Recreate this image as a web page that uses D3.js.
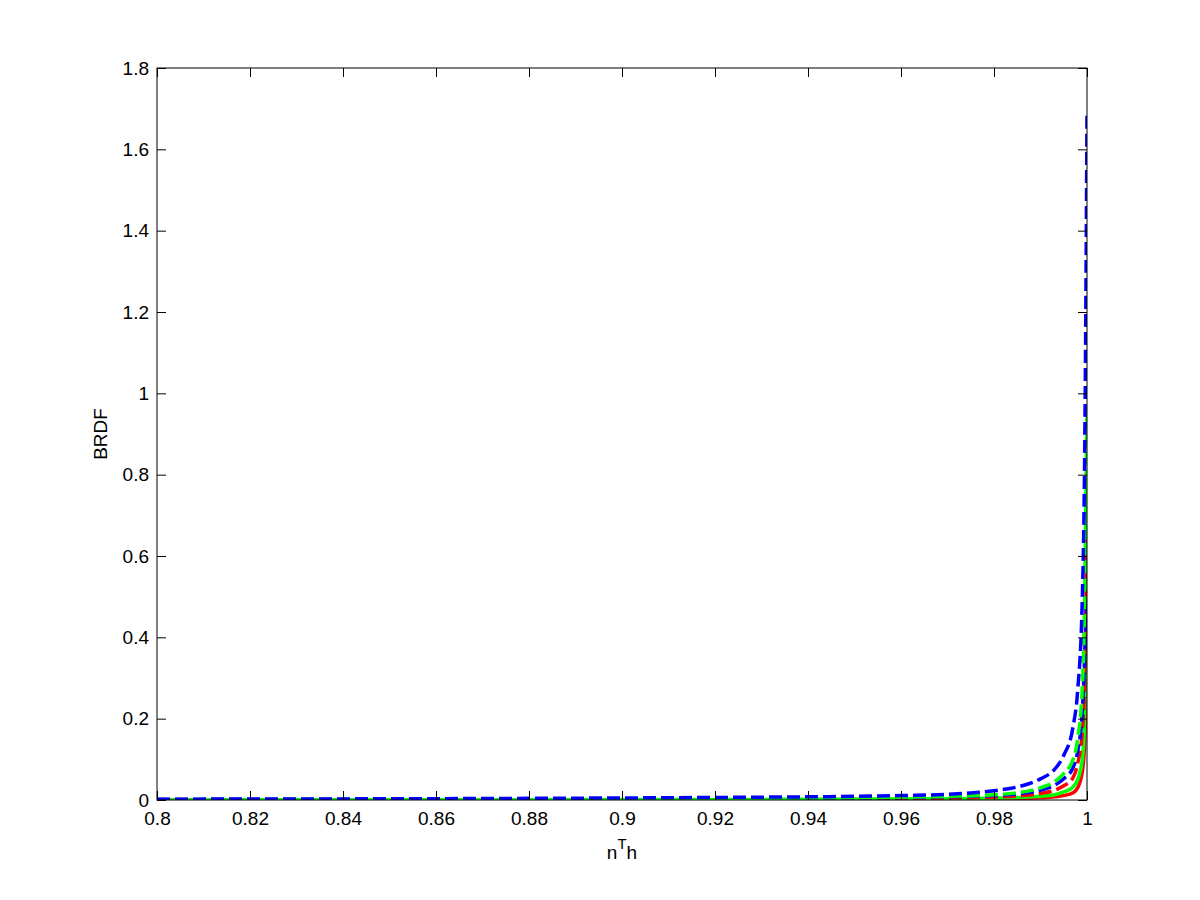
<!DOCTYPE html>
<html>
<head>
<meta charset="utf-8">
<script src="https://cdn.jsdelivr.net/npm/d3@7"></script>
<style>
  body { margin: 0; background: #fff; }
  svg { font-family: "Liberation Sans", Arial, sans-serif; }
</style>
</head>
<body>
<svg id="chart" width="1200" height="900"></svg>
<script>
// sample positions along n^T h, shared by every curve
var nh = [0.8, 0.85, 0.9, 0.93, 0.95, 0.96, 0.97, 0.98, 0.985, 0.99, 0.993, 0.995, 0.997, 0.998, 0.999, 0.9995, 0.9998, 1.0];

// BRDF values (outermost to innermost)
var blueDashed  = [0.002, 0.003, 0.005, 0.007, 0.009, 0.011, 0.014, 0.023, 0.032, 0.052, 0.075, 0.11, 0.18, 0.27, 0.50, 0.85, 1.30, 1.69];
var greenDashed = [0.001, 0.002, 0.003, 0.004, 0.006, 0.007, 0.009, 0.013, 0.018, 0.030, 0.045, 0.065, 0.10, 0.15, 0.28, 0.50, 0.80, 0.95];
var blueDashed2 = [0.001, 0.0015, 0.0025, 0.0035, 0.005, 0.006, 0.008, 0.011, 0.015, 0.024, 0.036, 0.052, 0.08, 0.12, 0.22, 0.35, 0.45, 0.50];
var redDashed   = [0.0005, 0.001, 0.0015, 0.002, 0.003, 0.004, 0.005, 0.007, 0.010, 0.016, 0.024, 0.035, 0.055, 0.09, 0.17, 0.30, 0.50, 0.64];
var greenSolid  = [0.0003, 0.0005, 0.001, 0.0015, 0.002, 0.0025, 0.003, 0.0045, 0.006, 0.009, 0.013, 0.020, 0.032, 0.05, 0.10, 0.20, 0.45, 0.80];
var redSolid    = [0.0001, 0.0002, 0.0004, 0.0006, 0.001, 0.0013, 0.0018, 0.0027, 0.0037, 0.0055, 0.0078, 0.011, 0.018, 0.03, 0.07, 0.14, 0.30, 0.46];

var xTicks = [0.8, 0.82, 0.84, 0.86, 0.88, 0.9, 0.92, 0.94, 0.96, 0.98, 1];
var yTicks = [0, 0.2, 0.4, 0.6, 0.8, 1, 1.2, 1.4, 1.6, 1.8];

// drawing order: bottom first, blue on top
var series = [
  { vals: redSolid,    color: '#ff0000', dash: null },
  { vals: greenSolid,  color: '#00ff00', dash: null },
  { vals: redDashed,   color: '#ff0000', dash: '13,5' },
  { vals: blueDashed2, color: '#0000ff', dash: '13,5' },
  { vals: greenDashed, color: '#00ff00', dash: '13,5' },
  { vals: blueDashed,  color: '#0000ff', dash: '13,5' }
];

var svg = d3.select('#chart');
var margin = { top: 68, right: 113, bottom: 100, left: 157 };
var width = 1200 - margin.left - margin.right;
var height = 900 - margin.top - margin.bottom;

var x = d3.scaleLinear().domain([0.8, 1]).range([0, width]);
var y = d3.scaleLinear().domain([0, 1.8]).range([height, 0]);

var g = svg.append('g').attr('transform', 'translate(' + margin.left + ',' + margin.top + ')');

g.append('defs').append('clipPath').attr('id', 'clip')
  .append('rect').attr('x', -3).attr('width', width + 3).attr('height', height);

var line = d3.line()
  .x(function(d) { return x(d[0]); })
  .y(function(d) { return y(d[1]); })
  .curve(d3.curveMonotoneX);

var plot = g.append('g').attr('clip-path', 'url(#clip)');
series.forEach(function(s) {
  var pts = nh.map(function(v, i) { return [v, s.vals[i]]; });
  plot.append('path')
    .datum(pts)
    .attr('d', line)
    .attr('fill', 'none')
    .attr('stroke', s.color)
    .attr('stroke-width', 3.5)
    .attr('stroke-dasharray', s.dash);
});

// box
g.append('rect').attr('width', width).attr('height', height)
  .attr('fill', 'none').attr('stroke', '#000').attr('stroke-width', 1);

function fmt(d) { return d3.format('~g')(d); }

// axes with inward ticks, mirrored on top/right
var axBottom = g.append('g').attr('transform', 'translate(0,' + height + ')')
  .call(d3.axisBottom(x).tickValues(xTicks).tickSize(-9).tickPadding(12).tickFormat(fmt));
var axTop = g.append('g')
  .call(d3.axisTop(x).tickValues(xTicks).tickSize(-9).tickFormat(''));
var axLeft = g.append('g')
  .call(d3.axisLeft(y).tickValues(yTicks).tickSize(-9).tickPadding(8).tickFormat(fmt));
var axRight = g.append('g').attr('transform', 'translate(' + width + ',0)')
  .call(d3.axisRight(y).tickValues(yTicks).tickSize(-9).tickFormat(''));

[axBottom, axTop, axLeft, axRight].forEach(function(a) {
  a.select('.domain').remove();
  a.selectAll('line').attr('stroke', '#000');
  a.selectAll('text').attr('fill', '#000').style('font-size', '19px');
});

// axis labels
var xl = svg.append('text')
  .attr('x', margin.left + width / 2)
  .attr('y', 859)
  .attr('text-anchor', 'middle')
  .style('font-size', '19px');
xl.append('tspan').text('n');
xl.append('tspan').attr('dy', -10).style('font-size', '15px').text('T');
xl.append('tspan').attr('dy', 10).text('h');

svg.append('text')
  .attr('transform', 'translate(107,' + (margin.top + height / 2) + ') rotate(-90)')
  .attr('text-anchor', 'middle')
  .style('font-size', '19px')
  .text('BRDF');
</script>
</body>
</html>
